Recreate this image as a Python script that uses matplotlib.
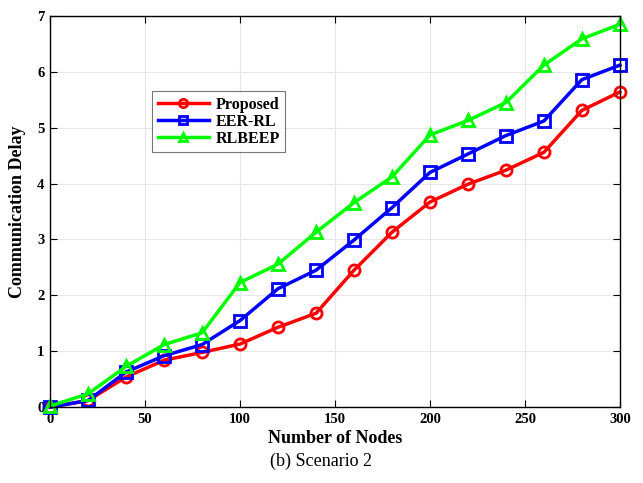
import matplotlib.pyplot as plt

nodes = [0, 20, 40, 60, 80, 100, 120, 140, 160, 180, 200, 220, 240, 260, 280, 300]
proposed = [0.0, 0.12, 0.54, 0.84, 0.98, 1.13, 1.43, 1.68, 2.45, 3.13, 3.67, 3.99, 4.24, 4.56, 5.31, 5.64]
eer_rl = [0.0, 0.12, 0.63, 0.92, 1.12, 1.55, 2.12, 2.45, 2.99, 3.57, 4.20, 4.53, 4.86, 5.12, 5.86, 6.12]
rlbeep = [0.02, 0.24, 0.73, 1.12, 1.33, 2.23, 2.56, 3.13, 3.66, 4.12, 4.87, 5.13, 5.45, 6.12, 6.59, 6.85]

plt.rcParams['font.family'] = ['Liberation Serif', 'DejaVu Serif']

fig = plt.figure(figsize=(6.43, 4.83), dpi=100)
ax = fig.add_axes([0.078, 0.157, 0.886, 0.81])

style = dict(linewidth=2.5, markersize=8, markerfacecolor='none', markeredgewidth=2, clip_on=False)
ax.plot(nodes, proposed, color=(1, 0, 0), marker='o', label='Proposed', **style)
ax.plot(nodes, eer_rl, color=(0, 0, 1), marker='s', label='EER-RL', **style)
ax.plot(nodes, rlbeep, color=(0, 1, 0), marker='^', label='RLBEEP', **style)

ax.set_xlim(0, 300)
ax.set_ylim(0, 7)
ax.set_xticks(range(0, 301, 50))
ax.set_yticks(range(0, 8))
ax.grid(True, color='#e6e6e6', linewidth=0.8)
ax.set_axisbelow(True)
ax.tick_params(direction='in', top=True, right=True, length=5, labelsize=10.5, pad=4)
for lbl in ax.get_xticklabels() + ax.get_yticklabels():
    lbl.set_fontweight('bold')
for s in ax.spines.values():
    s.set_linewidth(1.0)

ax.set_xlabel('Number of Nodes', fontsize=13, fontweight='bold', labelpad=3)
ax.set_ylabel('Communication Delay', fontsize=13, fontweight='bold', labelpad=8)

leg = ax.legend(loc='upper left', bbox_to_anchor=(0.179, 0.807), fancybox=False,
                edgecolor='#555555', prop={'weight': 'bold', 'size': 11.5},
                handlelength=3.2, borderpad=0.35, labelspacing=0.05, handletextpad=0.4,
                markerscale=0.75, borderaxespad=0)
leg.get_frame().set_linewidth(0.8)

fig.text(0.5, 0.035, '(b) Scenario 2', ha='center', fontsize=13)

fig.savefig('out.png', dpi=100)
